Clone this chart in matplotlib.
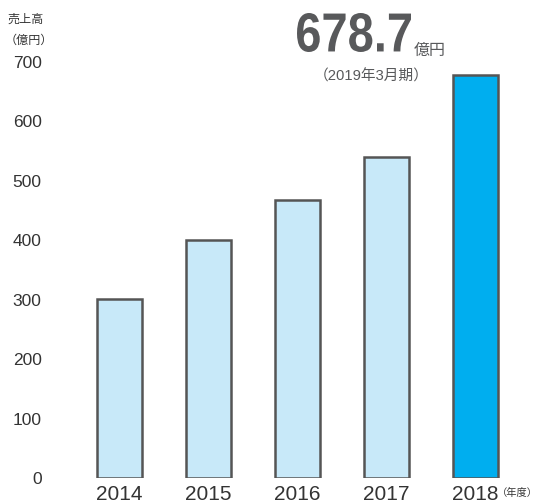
import matplotlib
matplotlib.use("Agg")
import matplotlib.pyplot as plt
from matplotlib.textpath import TextPath
from matplotlib.patches import PathPatch
from matplotlib.font_manager import FontProperties
from matplotlib.transforms import Affine2D, IdentityTransform

years = ["2014", "2015", "2016", "2017", "2018"]
sales = [302, 400, 467, 540, 678.7]
yticks = [0, 100, 200, 300, 400, 500, 600, 700]
colors = ["#C8E9F9", "#C8E9F9", "#C8E9F9", "#C8E9F9", "#00AEEF"]
headline = "678.7"

plt.rcParams['font.family'] = ['Liberation Sans', 'Noto Sans CJK JP', 'DejaVu Sans']

W, H = 539, 504
fig = plt.figure(figsize=(W / 100, H / 100), dpi=100)
ax = fig.add_axes([50 / W, 26 / H, 489 / W, 416 / H])

x = list(range(len(years)))
ax.bar(x, sales, width=0.515, color=colors, edgecolor="#555555", linewidth=1.8, zorder=2)

ax.set_ylim(0, 700)
xmin = -(119.5 - 50) / 89
ax.set_xlim(xmin, xmin + 489 / 89)
ax.set_yticks(yticks)
ax.set_yticklabels([str(v) for v in yticks], fontsize=12.5, color="#333333")
ax.set_xticks(x)
ax.set_xticklabels(years, fontsize=15, color="#333333")
ax.tick_params(axis='y', length=0, pad=6)
ax.tick_params(axis='x', length=0, pad=5)
for s in ax.spines.values():
    s.set_visible(False)

cjk = ['Liberation Sans', 'Noto Sans CJK JP', 'DejaVu Sans']

# header texts
fig.text(8 / W, 1 - 20 / H, "売上高", fontsize=8.7, color="#333333", va="center", ha="left", family=cjk)
fig.text(5 / W, 1 - 41 / H, "（億円）", fontsize=8.7, color="#333333", va="center", ha="left", family=cjk)
fig.text(538 / W, 1 - 493 / H, "（年度）", fontsize=7.4, color="#333333", va="center", ha="right", family=cjk)

# condensed headline number drawn as a scaled text path
tp = TextPath((0, 0), headline, size=1, prop=FontProperties(family='Liberation Sans', weight='bold'))
ext = tp.get_extents()
x0, x1 = 297, 411
ytop, ybot = 13, 52
sx = (x1 - x0) / ext.width
sy = (ybot - ytop) / ext.height
tr = Affine2D().translate(-ext.x0, -ext.y0).scale(sx, sy).translate(x0, H - ybot)
patch = PathPatch(tr.transform_path(tp), facecolor="#58595B", edgecolor="none",
                  transform=IdentityTransform())
fig.add_artist(patch)

fig.text(414 / W, 1 - 50 / H, "億円", fontsize=11.5, color="#58595B", va="center", ha="left", family=cjk)
fig.text(371 / W, 1 - 76 / H, "（2019年3月期）", fontsize=10.6, color="#58595B", va="center", ha="center", family=cjk)

fig.savefig("out.png", dpi=100)
